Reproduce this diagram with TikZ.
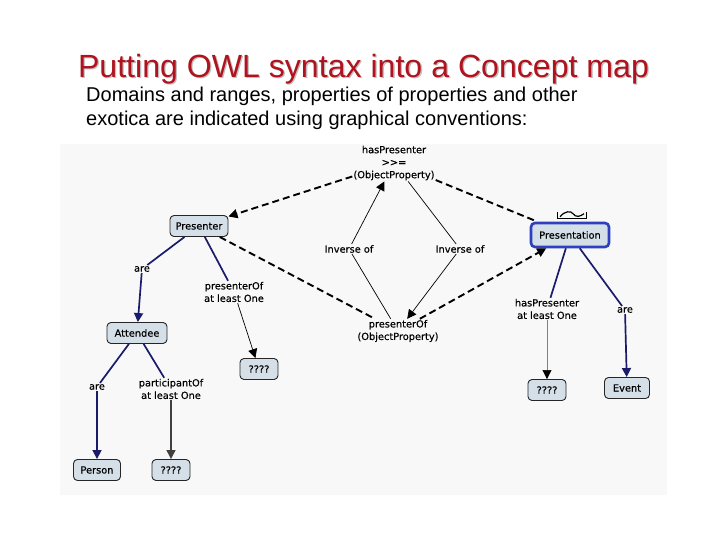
\documentclass[tikz,border=0pt]{standalone}
\usepackage{fontspec}
\setmainfont{Liberation Sans}
\newfontfamily\mapfont[FakeBold=0.4]{DejaVu Sans}
\usetikzlibrary{arrows.meta}
\definecolor{titlered}{HTML}{B0121E}
\definecolor{navyc}{HTML}{1B1B6B}
\definecolor{boxfill}{HTML}{D4DFE7}
\definecolor{presblue}{HTML}{2E3FBF}
\definecolor{bgpanel}{HTML}{F8F8F8}
\tikzset{
  concept/.style={draw=black!85, fill=boxfill, rounded corners=4pt, line width=0.9pt,
    font=\mapfont\fontsize{9.8}{11}\selectfont, minimum height=21pt, inner xsep=4pt, inner ysep=2pt},
  lbl/.style={font=\mapfont\fontsize{9.8}{12.5}\selectfont, align=center, inner sep=1pt},
  dashln/.style={dash pattern=on 7pt off 4pt, line width=1.9pt, black},
  navyln/.style={draw=navyc, line width=1.7pt},
  thinln/.style={line width=0.7pt, black},
  tipk/.style={-{Triangle[length=9pt,width=9pt]}},
}
\begin{document}
\begin{tikzpicture}[x=1pt,y=-1pt]
\useasboundingbox (0,0) rectangle (720,540);
\fill[white] (0,0) rectangle (720,540);
% title
\node[font=\fontsize{32.1}{36}\selectfont, text=black!25, anchor=base] at (364.8,78.8) {Putting OWL syntax into a Concept map};
\node[font=\fontsize{32.1}{36}\selectfont, text=titlered, anchor=base] (title) at (363.5,77.5) {Putting OWL syntax into a Concept map};
\node[font=\fontsize{20}{24}\selectfont, align=left, anchor=north west, inner sep=0pt] (sub) at (86,86.5)
  {Domains and ranges, properties of properties and other\\exotica are indicated using graphical conventions:};
% panel
\fill[bgpanel] (60,144) rectangle (667,495);
% nodes
\node[lbl] (hasP) at (394,163) {hasPresenter\\>>=\\(ObjectProperty)};
\node[concept, minimum width=58pt] (presenter) at (199,226) {Presenter};
\node[concept, minimum width=78pt, minimum height=24pt, draw=presblue, line width=2.6pt] (presentation) at (570,235) {Presentation};
\node[concept, minimum width=60pt] (attendee) at (137,333) {Attendee};
\node[concept, minimum width=38pt] (q1) at (259,369) {????};
\node[concept, minimum width=38pt] (q3) at (547,390) {????};
\node[concept, minimum width=45pt] (event) at (627,388) {Event};
\node[concept, minimum width=47pt] (person) at (97,470) {Person};
\node[concept, minimum width=38pt] (q2) at (171,470) {????};
% labels
\node[lbl] (are1) at (142,269) {are};
\node[lbl] (pOf1) at (234,292) {presenterOf\\at least One};
\node[lbl] (inv1) at (349,249) {Inverse of};
\node[lbl] (inv2) at (460,249) {Inverse of};
\node[lbl] (presOf) at (398,331) {presenterOf\\(ObjectProperty)};
\node[lbl] (hasP2) at (547,309) {hasPresenter\\at least One};
\node[lbl] (are3) at (625,310) {are};
\node[lbl] (are2) at (97,387) {are};
\node[lbl] (partOf) at (171,389) {participantOf\\at least One};
% decoration above Presentation
\draw[line width=0.8pt] ([xshift=-13pt,yshift=10pt]presentation.north) -- ([xshift=-13pt,yshift=3pt]presentation.north)
  -- ([xshift=16pt,yshift=3pt]presentation.north) -- ([xshift=16pt,yshift=10pt]presentation.north);
\draw[line width=1.2pt] ([xshift=-10pt,yshift=5pt]presentation.north) .. controls ([xshift=-5pt,yshift=11pt]presentation.north) and ([xshift=1pt,yshift=11pt]presentation.north) .. ([xshift=3pt,yshift=8pt]presentation.north)
  .. controls ([xshift=6pt,yshift=4pt]presentation.north) and ([xshift=10pt,yshift=5pt]presentation.north) .. ([xshift=14pt,yshift=8pt]presentation.north);
% dashed connectors
\draw[dashln, tipk] (hasP) -- (presenter);
\draw[dashln] (hasP) -- (presentation);
\draw[dashln] (presenter) -- (presOf);
\draw[dashln, tipk] (presOf) -- (presentation);
% inverse of
\draw[thinln] (presOf) -- (inv1);
\draw[thinln, tipk] (inv1) -- (hasP);
\draw[thinln] (hasP) -- (inv2);
\draw[thinln, tipk] (inv2) -- (presOf);
% navy connectors
\draw[navyln] (presenter) -- (are1);
\draw[navyln, tipk] (are1) -- (attendee);
\draw[navyln] (presenter) -- (pOf1);
\draw[thinln, tipk] (pOf1) -- (q1);
\draw[navyln] (attendee) -- (are2);
\draw[navyln, tipk] (are2) -- (person);
\draw[navyln] (attendee) -- (partOf);
\draw[line width=1.3pt, black!75, tipk] (partOf) -- (q2);
\draw[navyln] (presentation) -- (hasP2);
\draw[line width=0.6pt, black!50, -{Triangle[length=9pt,width=9pt,color=black]}] (hasP2) -- (q3);
\draw[navyln] (presentation) -- (are3);
\draw[navyln, tipk] (are3) -- (event);
\end{tikzpicture}
\end{document}
